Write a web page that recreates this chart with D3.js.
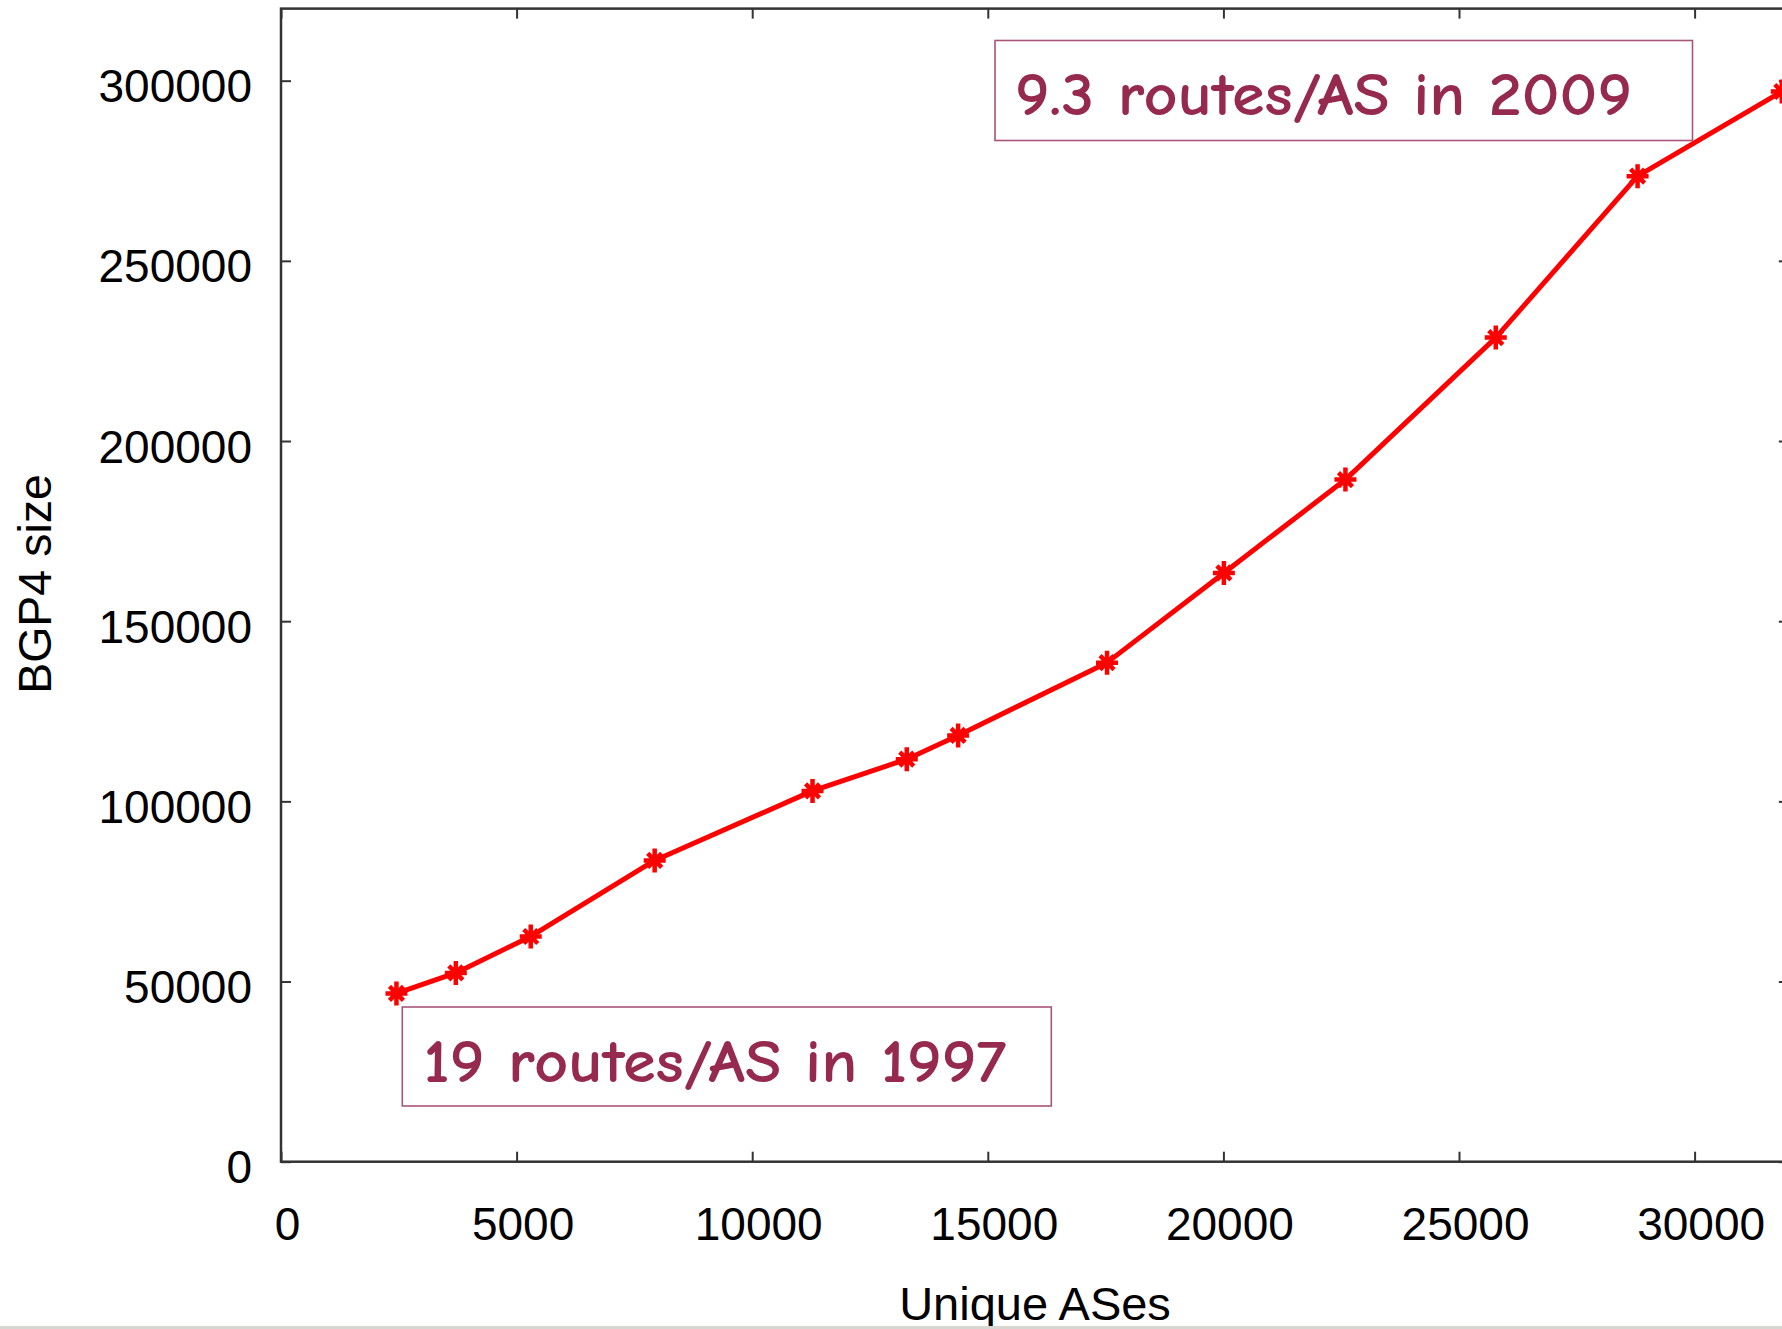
<!DOCTYPE html>
<html>
<head>
<meta charset="utf-8">
<script src="https://cdn.jsdelivr.net/npm/d3@7"></script>
<style>
  html, body { margin: 0; padding: 0; background: #ffffff; overflow: hidden; }
  svg { display: block; }
</style>
</head>
<body>
<script>
// ---- data ----
const uniqueASes = [2450, 3710, 5300, 7930, 11280, 13280, 14370, 17530, 20010, 22590, 25780, 28790, 31850];
const bgp4Size   = [46700, 52400, 62500, 83600, 102900, 111700, 118300, 138500, 163400, 189300, 228700, 273500, 297000];
const xTickValues = [0, 5000, 10000, 15000, 20000, 25000, 30000];
const yTickValues = [0, 50000, 100000, 150000, 200000, 250000, 300000];
const xDomain = [0, 32000];
const yDomain = [0, 320000];
const xTitle = "Unique ASes";
const yTitle = "BGP4 size";
const noteTexts = ["9.3 routes/AS in 2009", "19 routes/AS in 1997"];

// ---- layout ----
const W = 1782, H = 1329;
const left = 281, bottom = 1161.7;
const pxPer5000 = 235.6, pxPer50000 = 180.17;
const x = d3.scaleLinear().domain(xDomain).range([left, left + xDomain[1] * pxPer5000 / 5000]);
const y = d3.scaleLinear().domain(yDomain).range([bottom, bottom - yDomain[1] * pxPer50000 / 50000]);

const svg = d3.select("body").append("svg").attr("width", W).attr("height", H);
svg.append("rect").attr("width", W).attr("height", H).attr("fill", "#fff");

const axisColor = "#333333";
const tickFont = "'Liberation Sans', Arial, Helvetica, sans-serif";

function styleAxis(g) {
  g.select(".domain").remove();
  g.selectAll(".tick line").attr("stroke", axisColor).attr("stroke-width", 2);
}

// bottom axis
const gB = svg.append("g").attr("transform", `translate(0,${y(0)})`)
  .call(d3.axisBottom(x).tickValues(xTickValues).tickSize(-10).tickFormat(d3.format("d")));
styleAxis(gB);
gB.selectAll(".tick text")
  .attr("y", 62).attr("dy", null).attr("x", 6)
  .attr("dominant-baseline", "central")
  .attr("font-family", tickFont).attr("font-size", 46).attr("fill", "#000");

// top axis (mirror ticks)
const gT = svg.append("g").attr("transform", `translate(0,${y(yDomain[1])})`)
  .call(d3.axisTop(x).tickValues(xTickValues).tickSize(-10));
styleAxis(gT);
gT.selectAll(".tick text").remove();

// left axis
const gL = svg.append("g").attr("transform", `translate(${x(0)},0)`)
  .call(d3.axisLeft(y).tickValues(yTickValues).tickSize(-10).tickFormat(d3.format("d")));
styleAxis(gL);
gL.selectAll(".tick text")
  .attr("x", -29).attr("dy", null).attr("y", 5)
  .attr("dominant-baseline", "central").attr("text-anchor", "end")
  .attr("font-family", tickFont).attr("font-size", 46).attr("fill", "#000");

// right axis (mirror ticks)
const gR = svg.append("g").attr("transform", `translate(${x(xDomain[1])},0)`)
  .call(d3.axisRight(y).tickValues(yTickValues).tickSize(-10));
styleAxis(gR);
gR.selectAll(".tick text").remove();

// frame
svg.append("rect")
  .attr("x", x(0)).attr("y", y(yDomain[1]))
  .attr("width", x(xDomain[1]) - x(0)).attr("height", y(0) - y(yDomain[1]))
  .attr("fill", "none").attr("stroke", axisColor).attr("stroke-width", 2.5);

// axis titles
svg.append("text")
  .attr("x", 1035).attr("y", 1320).attr("text-anchor", "middle")
  .attr("font-family", tickFont).attr("font-size", 47).attr("fill", "#000")
  .text(xTitle);
svg.append("text")
  .attr("transform", "translate(51,584) rotate(-90)").attr("text-anchor", "middle")
  .attr("font-family", tickFont).attr("font-size", 46.5).attr("fill", "#000")
  .text(yTitle);

// data line
const pts = uniqueASes.map((v, i) => [v, bgp4Size[i]]);
svg.append("path")
  .datum(pts)
  .attr("d", d3.line().x(d => x(d[0])).y(d => y(d[1])))
  .attr("fill", "none").attr("stroke", "#ff0000").attr("stroke-width", 5)
  .attr("stroke-linejoin", "round");

// star markers (+ and x)
svg.selectAll("path.pt").data(pts).enter().append("path")
  .attr("class", "pt")
  .attr("transform", d => `translate(${x(d[0])},${y(d[1])})`)
  .attr("d", "M-11,0H11M0,-12V12M-7,-7L7,7M-7,7L7,-7")
  .attr("stroke", "#ff0000").attr("stroke-width", 4.5).attr("fill", "none");

// annotation boxes
const noteColor = "#962a4e";
const notes = [
  { text: noteTexts[0], bx: 995, by: 40.5, bw: 697.5, bh: 100, tx: 1015, ty: 115, tl: 617 },
  { text: noteTexts[1], bx: 402.3, by: 1007, bw: 649, bh: 99, tx: 423.5, ty: 1082, tl: 583 }
];
notes.forEach(n => {
  svg.append("rect").attr("x", n.bx).attr("y", n.by).attr("width", n.bw).attr("height", n.bh)
    .attr("fill", "#fff").attr("stroke", "#a8557a").attr("stroke-width", 1.6);
  svg.append("text").attr("x", n.tx).attr("y", n.ty)
    .attr("font-family", "'Comic Sans MS', 'Comic Neue', Lato, sans-serif")
    .attr("font-size", 60).attr("font-weight", "bold").attr("fill", noteColor)
    .attr("textLength", n.tl).attr("lengthAdjust", "spacingAndGlyphs")
    .text(n.text);
});

// bottom window strip
svg.append("rect").attr("x", 0).attr("y", 1326).attr("width", W).attr("height", 3).attr("fill", "#d8d6d0");
</script>
</body>
</html>
